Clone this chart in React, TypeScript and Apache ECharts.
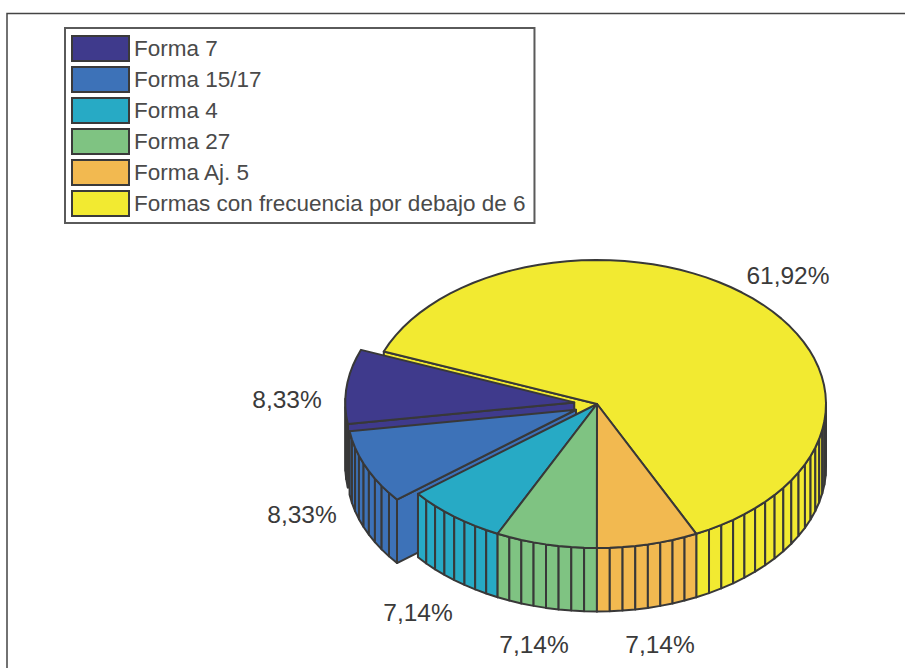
import React, { useEffect, useRef } from "react";
import * as echarts from "echarts";

const sliceNames = ["Forma 7", "Forma 15/17", "Forma 4", "Forma 27", "Forma Aj. 5", "Formas con frecuencia por debajo de 6"];
const sliceValues = [8.33, 8.33, 7.14, 7.14, 7.14, 61.92];
const sliceLabels = ["8,33%", "8,33%", "7,14%", "7,14%", "7,14%", "61,92%"];
const sliceExploded = [1, 1, 0, 0, 0, 0];
const sliceColors = ["#3f3a8c", "#3d72b8", "#27aac5", "#7fc382", "#f2b950", "#f2ea31"];
const sliceZ = [3, 4, 5, 6, 7, 2];
const labelCenters = [[287, 399], [302, 514], [418, 612], [534, 644], [660, 644], [788, 275]];

const CX = 597, CY = 404, RX = 229, RY = 144, DEPTH = 63.5;
const START_DEG = 201.4;
const EXPLODE = 0.1;
const INK = "#383838";
const LINE = 2;

const toRad = (d: number) => (d * Math.PI) / 180;

function renderSlice(index: number) {
  return (_params: any, api: any) => {
    const value = api.value(0);
    const before = sliceValues.slice(0, index).reduce((a, b) => a + b, 0);
    const a0 = START_DEG - (before * 360) / 100;
    const a1 = a0 - (value * 360) / 100;
    const mid = toRad((a0 + a1) / 2);
    const ox = CX + (sliceExploded[index] ? EXPLODE * RX * Math.cos(mid) : 0);
    const oy = CY + (sliceExploded[index] ? EXPLODE * RY * Math.sin(mid) : 0);
    const n = Math.ceil(value);
    const rim: number[][] = [];
    for (let k = 0; k <= n; k++) {
      const a = toRad(a0 + ((a1 - a0) * k) / n);
      rim.push([ox + RX * Math.cos(a), oy + RY * Math.sin(a)]);
    }
    const color = api.visual("color");
    const style = { fill: color, stroke: INK, lineWidth: LINE, lineJoin: "round" };
    const poly = (points: number[][]) => ({ type: "polygon", shape: { points }, style });
    const down = (p: number[]) => [p[0], p[1] + DEPTH];
    const children: any[] = [];
    const apex = [ox, oy];
    // radial faces: a1 is the low-angle edge of the slice, a0 the high-angle edge
    if (Math.cos(toRad(a1)) < 0) children.push(poly([apex, rim[n], down(rim[n]), down(apex)]));
    if (Math.cos(toRad(a0)) > 0) children.push(poly([apex, rim[0], down(rim[0]), down(apex)]));
    // outer wall, one facet per percentage step
    for (let k = 0; k < n; k++) {
      const m = toRad(a0 + ((a1 - a0) * (k + 0.5)) / n);
      if (Math.sin(m) > 0) children.push(poly([rim[k], rim[k + 1], down(rim[k + 1]), down(rim[k])]));
    }
    children.push(poly([apex, ...rim]));
    const [lx, ly] = labelCenters[index];
    children.push({
      type: "text",
      style: { text: sliceLabels[index], x: lx, y: ly, align: "center", verticalAlign: "middle", fill: "#3a3a3a", font: "24.5px 'Liberation Sans', Arial, sans-serif" },
    });
    return { type: "group", children };
  };
}

export default function App() {
  const ref = useRef<HTMLDivElement>(null);
  useEffect(() => {
    const chart = echarts.init(ref.current!, undefined, { renderer: "svg" });
    chart.setOption({
      animation: false,
      backgroundColor: "#ffffff",
      legend: {
        left: 65,
        top: 28,
        orient: "vertical",
        icon: "rect",
        selectedMode: false,
        itemWidth: 57,
        itemHeight: 25,
        itemGap: 4,
        padding: [7, 9, 6, 6],
        borderColor: "#5a5a5a",
        borderWidth: 2,
        backgroundColor: "#ffffff",
        itemStyle: { borderColor: "#3a3a3a", borderWidth: 2 },
        textStyle: { fontFamily: "'Liberation Sans', Arial, sans-serif", fontSize: 22.5, color: "#4a4a4a" },
        data: sliceNames,
      },
      graphic: [
        { type: "polyline", z: 0, silent: true, shape: { points: [[7, 668], [7, 13.5], [905, 13.5]] }, style: { fill: "none", stroke: "#444444", lineWidth: 1.5 } },
      ],
      series: sliceNames.map((name, i) => ({
        type: "custom",
        name,
        coordinateSystem: "none",
        z: sliceZ[i],
        silent: true,
        itemStyle: { color: sliceColors[i] },
        data: [[sliceValues[i]]],
        renderItem: renderSlice(i),
      })),
    });
    return () => chart.dispose();
  }, []);
  return <div ref={ref} style={{ position: "fixed", left: 0, top: 0, width: 905, height: 668 }} />;
}
